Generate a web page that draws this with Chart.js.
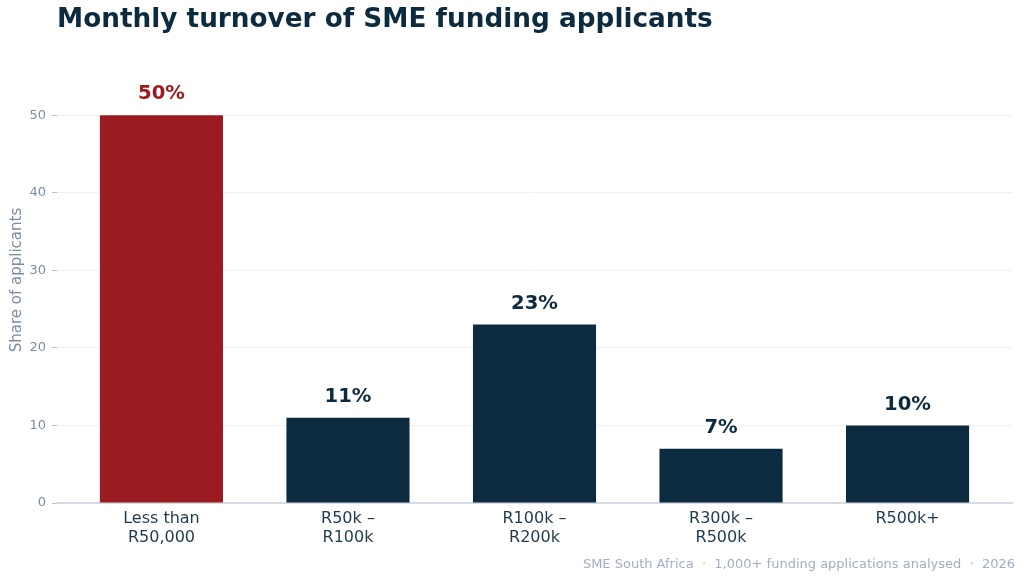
<!DOCTYPE html>
<html>
<head>
<meta charset="utf-8">
<script src="https://cdn.jsdelivr.net/npm/chart.js@4.4.1/dist/chart.umd.min.js"></script>
<style>
  html, body { margin: 0; padding: 0; background: #fff; }
  #wrap { position: relative; width: 1024px; height: 581px; font-family: "DejaVu Sans", sans-serif; }
  #title { position: absolute; left: 57px; top: 3px; font-size: 26.3px; font-weight: bold; color: #0d2b3e; white-space: nowrap; }
  #source { position: absolute; right: 9px; top: 556px; font-size: 13px; color: #a3aec2; white-space: nowrap; }
  canvas { position: absolute; left: 0; top: 0; }
</style>
</head>
<body>
<div id="wrap">
  <canvas id="chart" width="1024" height="581"></canvas>
  <div id="title">Monthly turnover of SME funding applicants</div>
  <div id="source">SME South Africa &nbsp;·&nbsp; 1,000+ funding applications analysed &nbsp;·&nbsp; 2026</div>
</div>
<script>
// turnover bands and share of applicants (%)
const categories = [
  ['Less than', 'R50,000'],
  ['R50k –', 'R100k'],
  ['R100k –', 'R200k'],
  ['R300k –', 'R500k'],
  'R500k+'
];
const shares = [50, 11, 23, 7, 10];
const highlight = 0; // the band shown in red
const yTicks = [0, 10, 20, 30, 40, 50];

const RED = '#9b1c20';
const NAVY = '#0d2b3e';

const barColors = shares.map((v, i) => i === highlight ? RED : NAVY);

// writes "50%" etc above each bar
const valueLabels = {
  id: 'valueLabels',
  afterDatasetsDraw(chart) {
    const ctx = chart.ctx;
    const meta = chart.getDatasetMeta(0);
    ctx.save();
    ctx.font = 'bold 19.6px "DejaVu Sans"';
    ctx.textAlign = 'center';
    ctx.textBaseline = 'bottom';
    meta.data.forEach((bar, i) => {
      ctx.fillStyle = barColors[i];
      ctx.fillText(shares[i] + '%', bar.x, bar.y - 11);
    });
    ctx.restore();
  }
};

new Chart(document.getElementById('chart'), {
  type: 'bar',
  data: {
    datasets: [{
      data: shares.map((v, i) => ({ x: i, y: v })),
      backgroundColor: barColors,
      categoryPercentage: 1,
      barPercentage: 0.66,
      borderWidth: 0
    }]
  },
  options: {
    responsive: false,
    animation: false,
    layout: { padding: { top: 57, right: 12, left: 0, bottom: 0 } },
    plugins: {
      legend: { display: false },
      tooltip: { enabled: false }
    },
    scales: {
      x: {
        type: 'linear',
        offset: false,
        min: -0.56,
        max: 4.56,
        afterBuildTicks(scale) {
          scale.ticks = categories.map((c, i) => ({ value: i }));
        },
        afterFit(scale) { scale.height = 78; },
        grid: { display: false, drawTicks: false },
        border: { display: true, color: '#d5dbe3', width: 2 },
        ticks: {
          autoSkip: false,
          maxRotation: 0,
          padding: 6,
          color: '#1f3a4d',
          font: { family: '"DejaVu Sans"', size: 16, lineHeight: 1.2 },
          callback: (v) => categories[v]
        }
      },
      y: {
        min: 0,
        max: 57.5,
        afterBuildTicks(scale) {
          scale.ticks = yTicks.map(v => ({ value: v }));
        },
        afterFit(scale) { scale.width = 57; },
        border: { display: false },
        grid: { color: '#eef1f5', lineWidth: 1, tickLength: 5, tickColor: '#b8c2cf' },
        ticks: {
          padding: 6,
          color: '#7b8ba1',
          font: { family: '"DejaVu Sans"', size: 13 }
        },
        title: {
          display: true,
          text: 'Share of applicants',
          color: '#7b8ba1',
          font: { family: '"DejaVu Sans"', size: 15 },
          padding: { top: 8, bottom: 0 }
        }
      }
    }
  },
  plugins: [valueLabels]
});
</script>
</body>
</html>
